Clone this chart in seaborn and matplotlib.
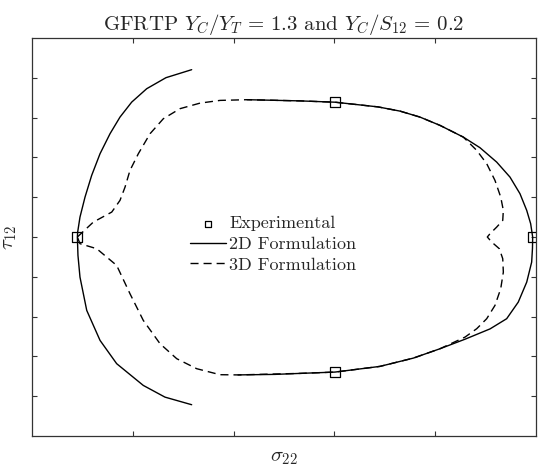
import numpy as np
import pandas as pd
import matplotlib
matplotlib.use("Agg")
import matplotlib.pyplot as plt
import seaborn as sns

# 2D formulation, compression-side arc
arc_x = [1.584, 1.329, 1.138, 0.989, 0.873, 0.774, 0.675, 0.592, 0.526, 0.476, 0.453, 0.450,
         0.456, 0.476, 0.543, 0.675, 0.840, 1.104, 1.319, 1.584]
arc_y = [4.204, 4.003, 3.726, 3.389, 3.013, 2.595, 2.093, 1.548, 1.003, 0.500, 0.123, 0.0,
         -0.462, -1.008, -1.844, -2.598, -3.183, -3.729, -4.023, -4.214]

# 2D formulation, main curve
main_x = [2.133, 2.659, 3.006, 3.433, 3.651, 3.849, 4.048, 4.279, 4.444, 4.610, 4.742, 4.841,
          4.908, 4.947, 4.967, 4.965, 4.957, 4.908, 4.824, 4.709, 4.544, 4.296, 4.048, 3.783,
          3.452, 3.006, 2.659, 2.411, 2.044]
main_y = [3.450, 3.420, 3.387, 3.269, 3.163, 3.013, 2.804, 2.510, 2.244, 1.882, 1.505, 1.088,
          0.668, 0.334, 0.0, -0.286, -0.631, -1.133, -1.636, -2.053, -2.309, -2.568, -2.807, -3.043,
          -3.251, -3.394, -3.427, -3.452, -3.465]

# 3D formulation
f3d_x = [0.450, 0.608, 0.791, 0.873, 0.923, 0.972, 1.055, 1.171, 1.303, 1.468, 1.667, 1.865,
         2.133, 2.659, 3.006, 3.433, 3.651, 3.849, 4.048, 4.279,
         4.412, 4.511, 4.593, 4.650, 4.676, 4.670, 4.610, 4.544, 4.517,
         4.561, 4.636, 4.670, 4.676, 4.650, 4.593, 4.511, 4.412, 4.296,
         4.048, 3.783, 3.452, 3.006, 2.659, 2.044,
         1.865, 1.634, 1.436, 1.270, 1.104, 0.972, 0.840, 0.642, 0.476, 0.450]
f3d_y = [0.0, 0.374, 0.626, 0.920, 1.254, 1.673, 2.093, 2.595, 2.972, 3.224, 3.364, 3.432,
         3.450, 3.420, 3.387, 3.269, 3.163, 3.013, 2.804, 2.510,
         2.176, 1.842, 1.422, 1.003, 0.668, 0.417, 0.249, 0.083, 0.0,
         -0.128, -0.294, -0.545, -0.882, -1.299, -1.719, -2.053, -2.304, -2.515,
         -2.807, -3.043, -3.251, -3.394, -3.427, -3.465,
         -3.460, -3.309, -3.058, -2.681, -2.095, -1.425, -0.714, -0.294, -0.168, 0.0]

# experimental points
exp_x = [0.450, 3.006, 4.967, 3.006]
exp_y = [0.0, 3.387, 0.0, -3.394]

sns.set_style("ticks")
plt.rcParams["font.family"] = "serif"
plt.rcParams["font.serif"] = ["cmr10", "DejaVu Serif"]
plt.rcParams["mathtext.fontset"] = "cm"
plt.rcParams["axes.unicode_minus"] = False

fig = plt.figure(figsize=(5.5, 4.69), dpi=100)
ax = fig.add_axes([32/550, 33/469, 504/550, 398/469])

sns.lineplot(x=f3d_x, y=f3d_y, sort=False, estimator=None, color="k", lw=1.0,
             linestyle=(0, (5.8, 3.6)), label="3D Formulation", ax=ax)
sns.lineplot(x=arc_x, y=arc_y, sort=False, estimator=None, color="k", lw=1.0,
             label="_nolegend_", ax=ax)
sns.lineplot(x=main_x, y=main_y, sort=False, estimator=None, color="k", lw=1.0,
             label="2D Formulation", ax=ax)
sns.scatterplot(x=exp_x, y=exp_y, marker="s", s=52, facecolor="none", edgecolor="k",
                linewidth=0.9, label="Experimental", ax=ax, zorder=5)

ax.set_xlim(0, 5)
ax.set_ylim(-5, 5)
ax.set_xticks([1, 2, 3, 4])
ax.set_yticks([-4, -3, -2, -1, 0, 1, 2, 3, 4])
ax.set_xticklabels([])
ax.set_yticklabels([])
ax.tick_params(direction="in", length=3.5, width=0.8, top=True, right=True, color="#333333")
for sp in ax.spines.values():
    sp.set_linewidth(0.9)
    sp.set_color("#333333")

ax.set_title(r"GFRTP $Y_C/Y_T\,=\,1.3$ and $Y_C/S_{12}\,=\,0.2$", fontsize=15, pad=6)
ax.set_xlabel(r"$\sigma_{22}$", fontsize=15, labelpad=6)
ax.set_ylabel(r"$\tau_{12}$", fontsize=15, labelpad=6)

h, l = ax.get_legend_handles_labels()
order = [l.index("Experimental"), l.index("2D Formulation"), l.index("3D Formulation")]
ax.legend([h[i] for i in order], [l[i] for i in order], loc="center left",
          bbox_to_anchor=(0.313, 0.482), frameon=False, fontsize=13,
          handlelength=2.0, handletextpad=0.2, labelspacing=0.28,
          borderpad=0, borderaxespad=0, markerscale=0.6)

fig.savefig("out.png", dpi=100)
